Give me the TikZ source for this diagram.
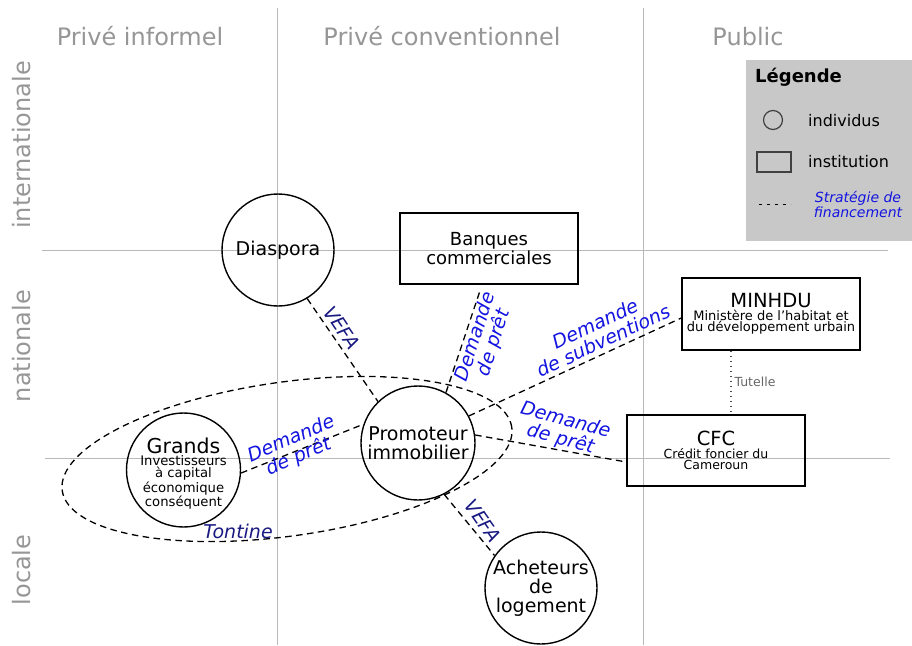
\documentclass[tikz,border=0pt]{standalone}
\usepackage{fontspec}
\setmainfont{DejaVu Sans}
\usetikzlibrary{calc}
\definecolor{lblue}{RGB}{20,20,225}
\definecolor{lnavy}{RGB}{25,25,130}
\definecolor{gridc}{RGB}{185,185,185}
\definecolor{headc}{RGB}{150,150,150}
\definecolor{legfill}{RGB}{200,200,200}
\tikzset{
  gridline/.style={draw=gridc, line width=1pt},
  head/.style={text=headc, font=\fontsize{24}{26}\selectfont, inner sep=0pt},
  circ/.style={draw=black, circle, line width=1.4pt, inner sep=0pt, align=center, font=\fontsize{19}{19}\selectfont},
  box/.style={draw=black, rectangle, line width=1.4pt, inner sep=0pt, minimum width=178pt, minimum height=71pt, align=center},
  link/.style={draw=black, line width=1.3pt, dash pattern=on 6.5pt off 4.5pt},
  lbl/.style={text=lblue, font=\fontsize{19}{19}\selectfont\itshape, align=center, inner sep=0pt},
  nlbl/.style={text=lnavy, font=\fontsize{19}{19}\selectfont\itshape, align=center, inner sep=0pt}
}
\begin{document}
\begin{tikzpicture}[x=1pt,y=-1pt]
\useasboundingbox (0,0) rectangle (912,645);
% grid
\draw[gridline] (277,8) -- (277,645);
\draw[gridline] (643,8) -- (643,645);
\draw[gridline] (42,250) -- (888,250);
\draw[gridline] (45,458) -- (890,458);
% headers
\node[head] (h1) at (140,36) {Privé informel};
\node[head] (h2) at (442,36) {Privé conventionnel};
\node[head] (h3) at (748,37) {Public};
\node[head, rotate=90] (v1) at (22,145) {internationale};
\node[head, rotate=90] (v2) at (22,346) {nationale};
\node[head, rotate=90] (v3) at (22,570) {locale};
% legend
\fill[legfill] (746,60) rectangle (912,241);
\node[font=\fontsize{18}{19}\selectfont\bfseries, anchor=west, inner sep=0pt] (lt) at (755,77) {Légende};
\node[draw=black!75, circle, line width=1.2pt, minimum size=19pt, inner sep=0pt] (lc) at (773,120) {};
\node[font=\fontsize{16}{17}\selectfont, anchor=west, inner sep=0pt] (li) at (808,121) {individus};
\node[draw=black!75, rectangle, line width=1.2pt, minimum width=34pt, minimum height=20pt, inner sep=0pt] (lr) at (774,162) {};
\node[font=\fontsize{16}{17}\selectfont, anchor=west, inner sep=0pt] (ln) at (808,162) {institution};
\coordinate (ld1) at (759,204);
\coordinate (ld2) at (791,204);
\draw[black, line width=1pt, dash pattern=on 3pt off 5pt] (ld1) -- (ld2);
\node[text=lblue, font=\fontsize{14}{15}\selectfont\itshape, align=center, inner sep=0pt] (ls) at (858,204) {Stratégie de\\financement};
% ellipse
\draw[link] (287,459) ellipse [x radius=227pt, y radius=77pt, rotate=8];
% nodes
\node[circ, minimum size=112pt] (dia) at (278,250) {Diaspora};
\node[circ, minimum size=114pt] (pro) at (418,443) {Promoteur\\immobilier};
\node[circ, minimum size=114pt] (gra) at (183.5,470) {};
\node[align=center, inner sep=0pt, font=\fontsize{13.2}{12.3}\selectfont] (gratx) at (183.5,473.5) {{\fontsize{20.5}{20}\selectfont Grands}\\[0pt]Investisseurs\\à capital\\économique\\conséquent};
\node[circ, minimum size=112pt] (ach) at (541,588) {Acheteurs\\de\\logement};
\node[box, font=\fontsize{18}{18.5}\selectfont] (ban) at (489,248.5) {Banques\\commerciales};
\node[box, minimum height=72pt, font=\fontsize{13}{11.5}\selectfont] (min) at (771,314) {{\fontsize{19.5}{20}\selectfont MINHDU}\\[1pt]Ministère de l'habitat et\\du développement urbain};
\node[box, font=\fontsize{12.5}{11.5}\selectfont] (cfc) at (716,450.5) {{\fontsize{19.5}{20}\selectfont CFC}\\[1pt]Crédit foncier du\\Cameroun};
% links
\draw[link] (dia.-59) -- (pro.134);
\draw[link] (pro.61) -- ([xshift=-9pt,yshift=-6pt]ban.south);
\draw[link] (pro.28) -- ([yshift=-4pt]min.west);
\draw[link] (pro.8) -- ([yshift=-11.5pt]cfc.west);
\draw[link] (gra.-3) -- (pro.161);
\draw[link] (pro.-63) -- (ach.145);
\coordinate (tx) at (731,0);
\draw[draw=black!70, line width=1.1pt, dash pattern=on 1.5pt off 3.5pt] (min.south -| tx) -- (cfc.north -| tx);
% labels
\node[nlbl, rotate=-56] (l1) at (342,328) {VEFA};
\node[lbl, rotate=72] (l2) at (485,340) {Demande\\de prêt};
\node[lbl, rotate=25] (l3) at (599,332) {Demande\\de subventions};
\node[lbl, rotate=-15] (l4) at (563,430) {Demande\\de prêt};
\node[lbl, rotate=23] (l5) at (295,448) {Demande\\de prêt};
\node[nlbl, rotate=-55] (l6) at (483,521) {VEFA};
\node[nlbl] (l7) at (238,531) {Tontine};
\node[text=black!60, font=\fontsize{12.5}{13}\selectfont, inner sep=0pt] (l8) at (755,382) {Tutelle};
\end{tikzpicture}
\end{document}
